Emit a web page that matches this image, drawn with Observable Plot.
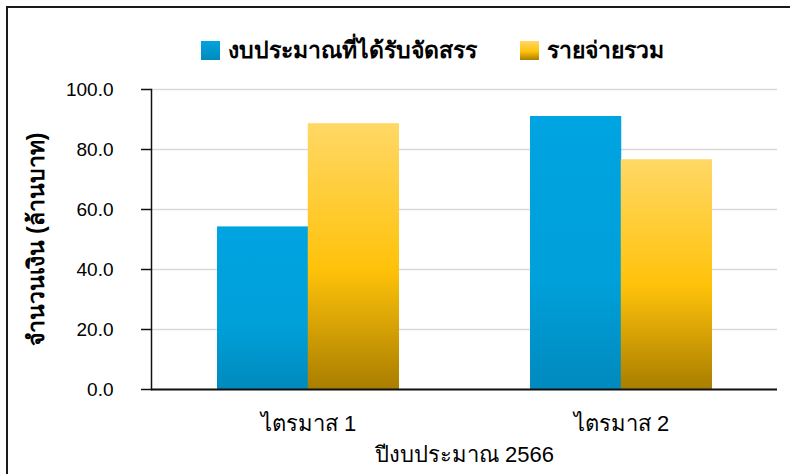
<!DOCTYPE html>
<html><head><meta charset="utf-8">
<script src="https://cdn.jsdelivr.net/npm/d3@7"></script>
<script src="https://cdn.jsdelivr.net/npm/@observablehq/plot@0.6"></script>
<style>
html,body{margin:0;padding:0;background:#fff}
body{width:790px;height:474px;overflow:hidden;position:relative;font-family:"Liberation Sans",Arial,sans-serif;color:#000}
#border{position:absolute;left:6px;top:6px;width:820px;height:520px;border:2px solid #1a1a1a;box-sizing:border-box;pointer-events:none}
#legend{position:relative;height:70px}
.item{position:absolute;top:41px;display:flex;align-items:center;font-weight:bold;font-size:23px;line-height:19px;white-space:nowrap}
.sw{width:19px;height:19px;margin-right:8px;flex:none}
#chart svg{display:block}
</style></head>
<body>
<div id="legend"></div>
<div id="chart"></div>
<div id="border"></div>
<script>
const quarters = ["ไตรมาส 1", "ไตรมาส 2"];
const seriesNames = ["งบประมาณที่ได้รับจัดสรร", "รายจ่ายรวม"];
const budget = [54.2, 91.0];
const spending = [88.6, 76.6];
const yTicks = [0, 20, 40, 60, 80, 100];
const yTitle = "จำนวนเงิน (ล้านบาท)";
const xTitle = "ปีงบประมาณ 2566";

const gradients = {
  gBlue: [[0, "#00a4e0"], [0.6, "#00a0da"], [1, "#008abd"]],
  gGold: [[0, "#ffd866"], [0.55, "#ffc20a"], [1, "#a97e00"]]
};
const fills = ["url(#gBlue)", "url(#gGold)"];
const swatchCss = ["linear-gradient(#00a4e0,#008abd)", "linear-gradient(#ffd866,#ffc20a 55%,#a97e00)"];
const legendLeft = [201, 520];

// legend
const leg = document.getElementById("legend");
seriesNames.forEach((s, i) => {
  const it = document.createElement("div");
  it.className = "item";
  it.style.left = legendLeft[i] + "px";
  const sw = document.createElement("div");
  sw.className = "sw";
  sw.style.background = swatchCss[i];
  it.appendChild(sw);
  const t = document.createElement("span");
  t.textContent = s;
  it.appendChild(t);
  leg.appendChild(it);
});

const rowsBudget = quarters.map((q, i) => ({quarter: q, value: budget[i]}));
const rowsSpend = quarters.map((q, i) => ({quarter: q, value: spending[i]}));

const W = 790, H = 404, mL = 151, mR = 13, mT = 19, mB = 85;
const padIn = 0.42, padOut = 0.21;
const step = (W - mL - mR) / (quarters.length - padIn + 2 * padOut);
const half = step * (1 - padIn) / 2;

const chart = Plot.plot({
  width: W, height: H,
  marginLeft: mL, marginRight: mR, marginTop: mT, marginBottom: mB,
  style: {fontFamily: "'Liberation Sans', Arial, sans-serif", fontSize: "19px", color: "#000", background: "#fff"},
  x: {domain: quarters, paddingInner: padIn, paddingOuter: padOut},
  y: {domain: [0, 100]},
  marks: [
    Plot.gridY(yTicks, {stroke: "#d9d9d9", strokeOpacity: 1, strokeWidth: 1.5}),
    Plot.barY(rowsBudget, {x: "quarter", y: "value", fill: fills[0], insetRight: half}),
    Plot.barY(rowsSpend, {x: "quarter", y: "value", fill: fills[1], insetLeft: half}),
    Plot.ruleY([0], {stroke: "#111", strokeWidth: 2}),
    Plot.frame({anchor: "left", stroke: "#111", strokeWidth: 1.5}),
    Plot.axisY({ticks: yTicks, tickFormat: d3.format(".1f"), tickSize: 10, tickPadding: 28, stroke: "#111", strokeWidth: 1.5, strokeOpacity: 1, label: null, fontSize: 19}),
    Plot.axisY({ticks: [], label: yTitle, labelAnchor: "center", labelOffset: 124, labelArrow: "none", fontWeight: "bold", fontSize: 23}),
    Plot.axisX({tickSize: 0, tickPadding: 26, fontSize: 22, label: null}),
    Plot.axisX({ticks: [], label: xTitle, labelAnchor: "center", labelOffset: 72, labelArrow: "none", fontSize: 22})
  ]
});

const defs = d3.select(chart).insert("defs", ":first-child");
for (const [id, stops] of Object.entries(gradients)) {
  const g = defs.append("linearGradient").attr("id", id).attr("x1", 0).attr("y1", 0).attr("x2", 0).attr("y2", 1);
  for (const [o, c] of stops) g.append("stop").attr("offset", o).attr("stop-color", c);
}
document.getElementById("chart").appendChild(chart);
</script>
</body></html>
